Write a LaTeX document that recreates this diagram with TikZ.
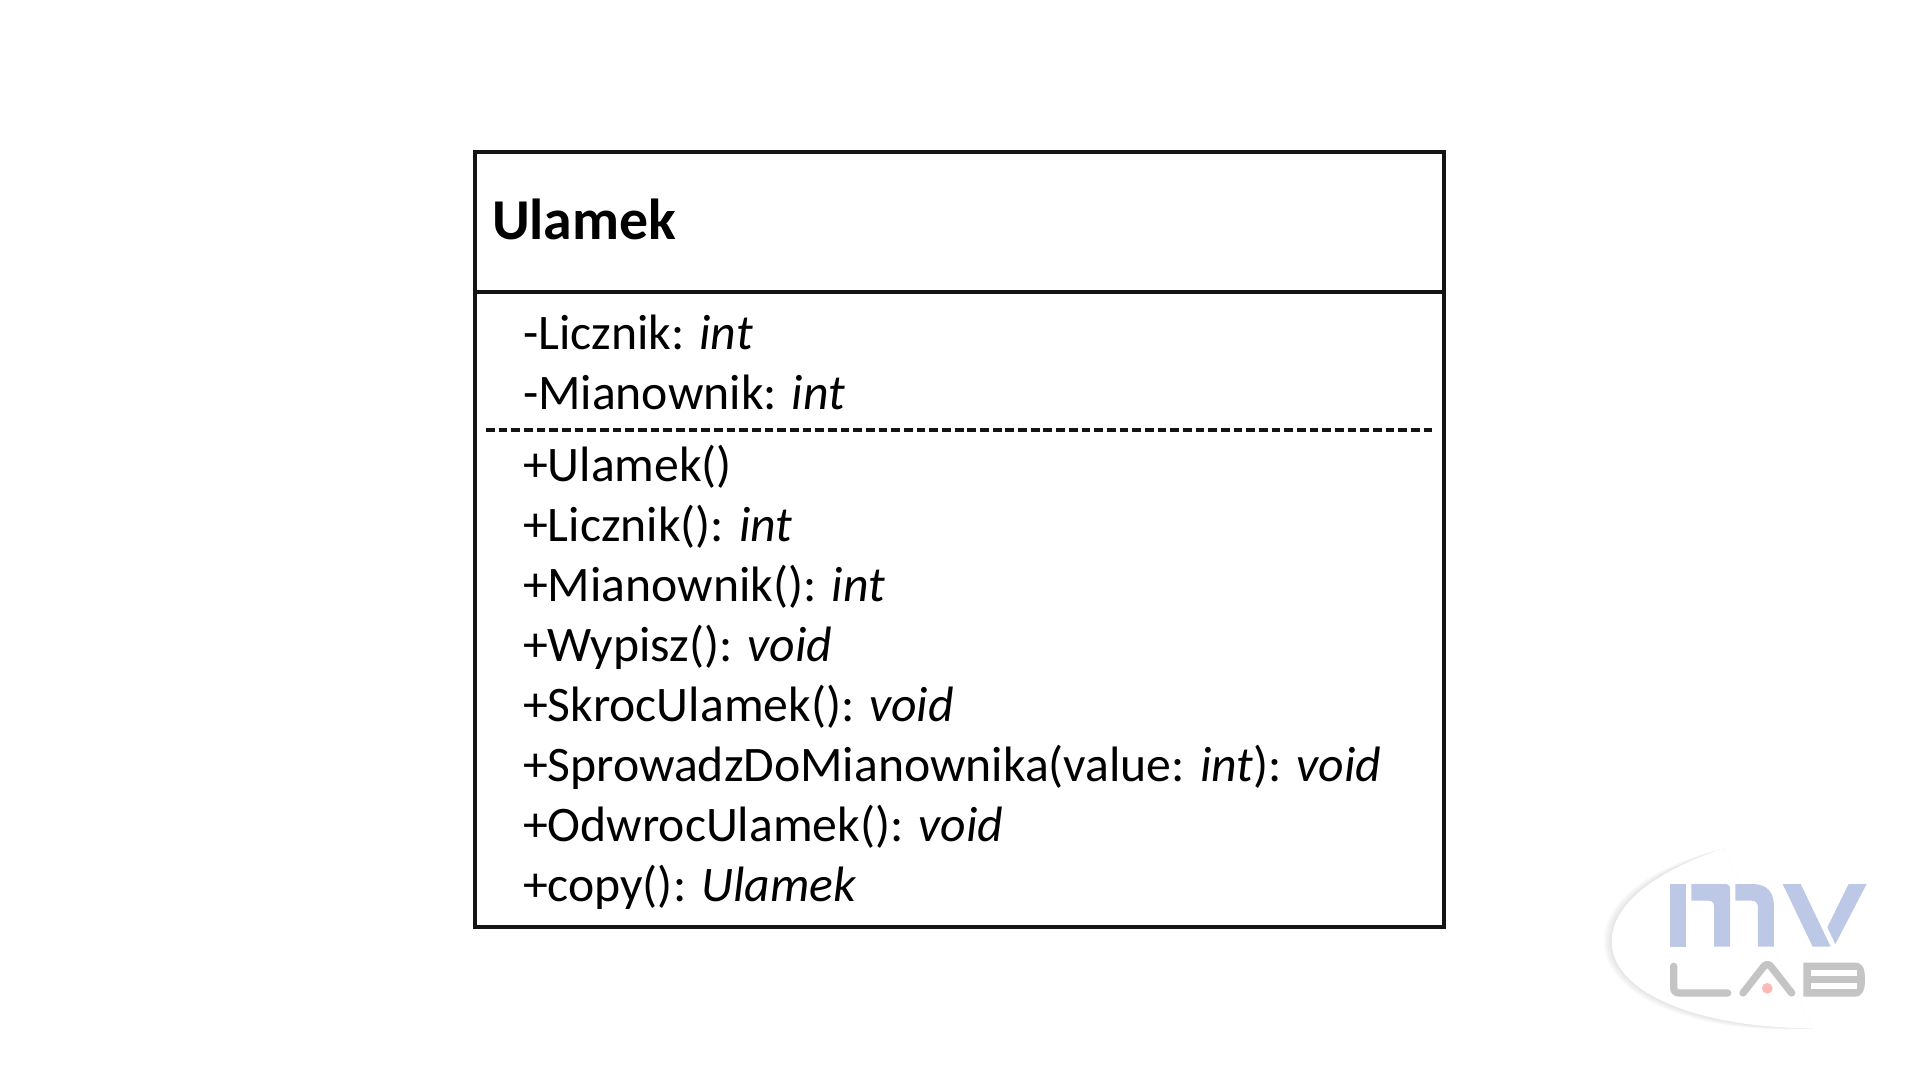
\documentclass[tikz,border=0pt]{standalone}
\usepackage{fontspec}
\setmainfont{Carlito}
\definecolor{mvblue}{HTML}{BCC8E6}
\definecolor{mvgrey}{HTML}{C4C4C4}
\definecolor{mvred}{HTML}{FFB8B8}
\tikzset{
	member/.style={anchor=base west,font=\fontsize{49.7}{60}\selectfont},
	title/.style={anchor=base west,font=\fontsize{57.8}{68}\selectfont\bfseries},
	frame/.style={draw=black!92,line width=3.2pt},
	logoblue/.style={fill=mvblue},
	logogrey/.style={draw=mvgrey,line width=7.3pt,line cap=round,line join=round}
}
\begin{document}
\begin{tikzpicture}[x=1pt,y=-1pt,inner sep=0pt,outer sep=0pt]
	\useasboundingbox (0,0) rectangle (1920,1080);
	\fill[white] (0,0) rectangle (1920,1080);
	\coordinate (nw) at (475,152);
	\coordinate (se) at (1444,927);
	\coordinate (titlel) at (475,292);
	\coordinate (titler) at (1444,292);
	\coordinate (dashl) at (486,430);
	\coordinate (dashr) at (1432,430);
	\draw[frame] (nw) rectangle (se);
	\draw[frame] (titlel) -- (titler);
	\draw[frame,line width=4pt,dash pattern=on 8.7pt off 3.97pt] (dashl) -- (dashr);
	\node[title] (name) at (492,239) {Ulamek};
	\node[member] (licznik) at (523,349) {-Licznik: \textit{int}};
	\node[member] (mianownik) at (523,409) {-Mianownik: \textit{int}};
	\node[member] (ctor) at (523,481) {+Ulamek()};
	\node[member] (getl) at (523,541) {+Licznik(): \textit{int}};
	\node[member] (getm) at (523,601) {+Mianownik(): \textit{int}};
	\node[member] (wypisz) at (523,661) {+Wypisz(): \textit{void}};
	\node[member] (skroc) at (523,721) {+SkrocUlamek(): \textit{void}};
	\node[member] (sprowadz) at (523,781) {+SprowadzDoMianownika(value: \textit{int}): \textit{void}};
	\node[member] (odwroc) at (523,841) {+OdwrocUlamek(): \textit{void}};
	\node[member] (copy) at (523,901) {+copy(): \textit{Ulamek}};
	\begin{scope}[shift={(1560,820)},x=0.3333pt,y=-0.3333pt]
	\foreach \d in {2,4,...,26}
		\fill[black,opacity=.009] (490,85) .. controls ({270-\d},{160-.5*\d}) and ({155-\d},{260-.3*\d}) .. ({155-\d},365)
			.. controls ({155-\d},{520+.4*\d}) and ({420-.4*\d},{625+\d}) .. (760,625) -- cycle;
	\fill[white] (490,85) .. controls (270,160) and (155,260) .. (155,365)
		.. controls (155,520) and (420,625) .. (760,625) -- cycle;
	\fill[logoblue] (330,192) rectangle (378,380);
	\fill[logoblue] (394,192) -- (495,192) .. controls (505,192) and (510,197) .. (510,207)
		-- (510,380) -- (462,380) -- (462,258) .. controls (462,247) and (456,242) .. (445,242)
		-- (394,242) -- cycle;
	\fill[logoblue] (526,192) -- (575,192) .. controls (622,192) and (642,215) .. (642,262)
		-- (642,380) -- (594,380) -- (594,262) .. controls (594,250) and (587,242) .. (575,242)
		-- (526,242) -- cycle;
	\fill[logoblue] (668,192) -- (722,192) -- (812,380) -- (758,380) -- cycle;
	\fill[logoblue] (866,192) -- (920,192) -- (826,372) -- (802,322) -- cycle;
	\draw[logogrey] (341,439) -- (341,502) .. controls (341,514) and (347,519) .. (359,519) -- (503,519);
	\draw[logogrey] (549,519) -- (610,441) .. controls (618,431) and (626,431) .. (634,441) -- (695,519);
	\fill[mvgrey] (730,428) -- (885,428) .. controls (908,428) and (915,445) .. (915,478)
		.. controls (915,510) and (908,530) .. (885,530) -- (730,530) -- cycle;
	\fill[white] (752,450) rectangle (890,468);
	\fill[white] (752,490) rectangle (890,508);
	\fill[mvred] (622,505) circle[radius=16];
	\end{scope}
\end{tikzpicture}
\end{document}
